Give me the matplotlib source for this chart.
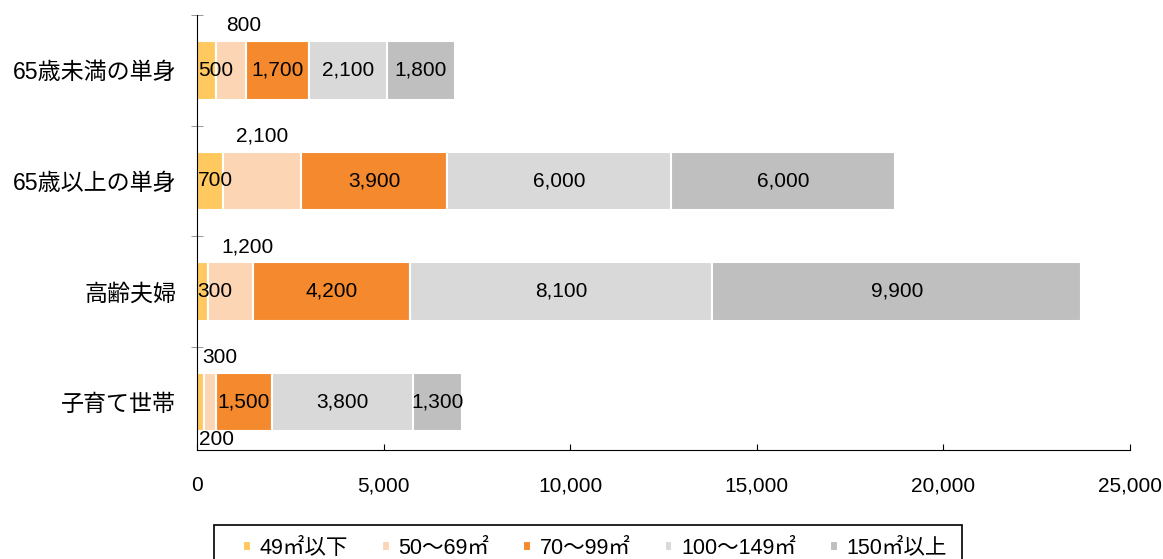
import matplotlib.pyplot as plt
from matplotlib.patches import Rectangle
import numpy as np

plt.rcParams['font.family'] = ['Liberation Sans', 'Noto Sans CJK JP']

categories = ['65歳未満の単身', '65歳以上の単身', '高齢夫婦', '子育て世帯']
series_names = ['49㎡以下', '50～69㎡', '70～99㎡', '100～149㎡', '150㎡以上']
under49 = [500, 700, 300, 200]
s50_69 = [800, 2100, 1200, 300]
s70_99 = [1700, 3900, 4200, 1500]
s100_149 = [2100, 6000, 8100, 3800]
over150 = [1800, 6000, 9900, 1300]
xticks = [0, 5000, 10000, 15000, 20000, 25000]
colors = ['#FFC95F', '#FCD5B4', '#F4892E', '#D9D9D9', '#BFBFBF']

series = [under49, s50_69, s70_99, s100_149, over150]

# small segments get their label moved like excel did it
label_pos = {(0, 0): 'left', (0, 1): 'left', (0, 2): 'left', (0, 3): 'below'}
for r in range(4):
    label_pos[(1, r)] = 'above'
above_dx = [9.5, 0, 12, 7]   # points, sideways nudge of the labels above the bars

fig = plt.figure(figsize=(11.63, 5.59), dpi=100)
ax = fig.add_axes([197/1163, 1-450/559, 933/1163, 435/559])

y = np.arange(len(categories))
left = np.zeros(len(categories))
handles = []
fs = 15
for i, vals in enumerate(series):
    vals = np.array(vals)
    h = ax.barh(y, vals, left=left, height=0.53, color=colors[i],
                edgecolor='white', linewidth=1.5, label=series_names[i])
    handles.append(h)
    for r in range(len(categories)):
        txt = f'{vals[r]:,}'
        pos = label_pos.get((i, r), 'center')
        cx = left[r] + vals[r] / 2
        if pos == 'center':
            ax.annotate(txt, (cx, y[r]), ha='center', va='center', fontsize=fs)
        elif pos == 'left':
            ax.annotate(txt, (left[r], y[r]), xytext=(0.5, 0), textcoords='offset points',
                        ha='left', va='center', fontsize=fs)
        elif pos == 'above':
            ax.annotate(txt, (cx, y[r]), xytext=(above_dx[r], 32), textcoords='offset points',
                        ha='center', va='center', fontsize=fs)
        elif pos == 'below':
            ax.annotate(txt, (left[r], y[r]), xytext=(1.5, -27), textcoords='offset points',
                        ha='left', va='center', fontsize=fs)
    left += vals

ax.set_xlim(0, 25000)
ax.set_ylim(3.434, -0.5)
ax.set_xticks(xticks)
ax.set_xticklabels([f'{t:,}' for t in xticks], fontsize=fs)
ax.tick_params(axis='x', direction='in', length=4, pad=19)
ax.set_yticks(y)
ax.set_yticklabels(categories, fontsize=16.6)
ax.tick_params(axis='y', length=0, pad=15)
ax.set_yticks([-0.5, 0.5, 1.5, 2.5], minor=True)
ax.tick_params(axis='y', which='minor', length=8, direction='inout', color='#888888')

for s in ['top', 'right']:
    ax.spines[s].set_visible(False)

# legend frame runs off the bottom of the picture
fig.patches.append(Rectangle((214/1163, -0.05), (962-214)/1163, 0.05 + 1-525/559,
                             transform=fig.transFigure, fill=False,
                             edgecolor='black', linewidth=1.2))
fig.legend(handles=handles, loc='center left', ncol=5,
           bbox_to_anchor=(243/1163, 1-548/559), bbox_transform=fig.transFigure,
           fontsize=15.5, frameon=False, borderpad=0, borderaxespad=0,
           handlelength=0.35, handleheight=0.35, handletextpad=0.4,
           columnspacing=1.6)

fig.savefig('out.png', dpi=100)
